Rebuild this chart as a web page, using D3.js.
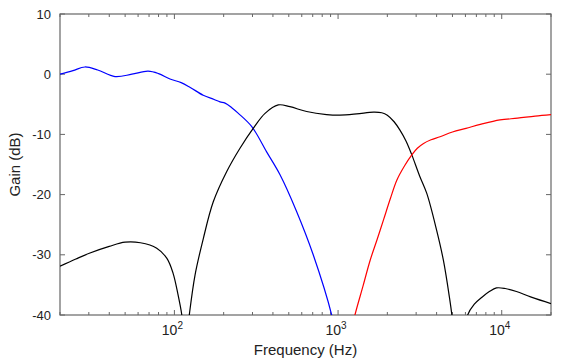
<!DOCTYPE html>
<html><head><meta charset="utf-8">
<script src="https://cdn.jsdelivr.net/npm/d3@7"></script>
<style>body{margin:0;background:#fff}svg{display:block}text{font-family:"Liberation Sans",Arial,sans-serif;fill:#222}</style>
</head><body><svg id="c" width="576" height="360"></svg>
<script>
const yTicks = [10, 0, -10, -20, -30, -40];
const xMajor = [100, 1000, 10000];
const xMajorExp = ["2", "3", "4"];
const xLabel = "Frequency (Hz)";
const yLabel = "Gain (dB)";

const blueFreq = [20, 24, 28.4, 34, 43.4, 55, 69, 80, 94, 110, 125, 150, 175, 190, 204, 225, 246, 297, 366, 442, 558, 705, 914, 960];
const blueGain = [0, 0.6, 1.2, 0.7, -0.4, 0.0, 0.5, 0.1, -0.8, -1.4, -2.2, -3.5, -4.2, -4.6, -4.8, -5.6, -6.5, -8.7, -12.9, -16.7, -22.8, -30.0, -40, -43];

const blackFreq = [20, 25, 30.5, 40, 50, 62, 78, 90, 98, 105, 111, 113, NaN, 121, 123.3, 133.6, 150.2, 172.8, 208.5, 251.6, 303, 358, 431, 508, 643, 851, 1027, 1300, 1646, 1850, 2000, 2200, 2389, 2600, 2822, 3150, 3484, 4000, 4400, 4800, 4960, 5100, NaN, 6000, 6195, 6800, 7605, 8400, 9290, 10500, 12300, 15000, 20000];
const blackGain = [-31.9, -30.7, -29.7, -28.6, -27.9, -28.0, -28.9, -30.6, -33.0, -36.5, -40, -42, NaN, -42, -40, -33.4, -27.3, -21.2, -16.2, -12.3, -9.0, -6.5, -5.1, -5.4, -6.2, -6.7, -6.8, -6.6, -6.3, -6.4, -6.8, -7.9, -9.3, -11.1, -13.4, -16.9, -19.8, -25.9, -30.9, -37.2, -40, -43, NaN, -43, -40, -38.2, -37.0, -36.1, -35.5, -35.6, -36.1, -37.0, -38.1];

const redFreq = [1200, 1268, 1420, 1571, 1730, 1895, 2085, 2285, 2550, 2822, 3050, 3330, 3700, 4200, 5000, 6050, 7500, 9750, 12500, 16000, 20000];
const redGain = [-43, -40, -35.2, -30.9, -27.5, -24.2, -20.7, -17.6, -15.2, -13.4, -12.3, -11.5, -10.9, -10.4, -9.6, -9.0, -8.3, -7.6, -7.3, -6.95, -6.7];

const svg = d3.select("#c");
const L = 60, R = 551, T = 14, B = 315;
const x = d3.scaleLog().domain([20, 20000]).range([L, R]);
const y = d3.scaleLinear().domain([-40, 10]).range([B, T]);
const borderCol = "#666";

svg.append("defs").append("clipPath").attr("id", "clip")
  .append("rect").attr("x", L).attr("y", T).attr("width", R - L).attr("height", B - T);

// y ticks
yTicks.forEach(v => {
  svg.append("line").attr("x1", L).attr("x2", L + 5).attr("y1", y(v)).attr("y2", y(v)).attr("stroke", borderCol);
  svg.append("line").attr("x1", R).attr("x2", R - 5).attr("y1", y(v)).attr("y2", y(v)).attr("stroke", borderCol);
  svg.append("text").attr("x", L - 9).attr("y", y(v)).attr("dy", "0.36em").attr("text-anchor", "end")
    .attr("font-size", 13).text(v);
});

// x minor ticks
const minor = [];
for (let d = 10; d <= 10000; d *= 10) for (let k = 2; k <= 9; k++) { const f = d * k; if (f >= 20 && f <= 20000) minor.push(f); }
minor.forEach(f => {
  svg.append("line").attr("x1", x(f)).attr("x2", x(f)).attr("y1", B).attr("y2", B - 3).attr("stroke", borderCol);
  svg.append("line").attr("x1", x(f)).attr("x2", x(f)).attr("y1", T).attr("y2", T + 3).attr("stroke", borderCol);
});
xMajor.forEach((f, i) => {
  svg.append("line").attr("x1", x(f)).attr("x2", x(f)).attr("y1", B).attr("y2", B - 5).attr("stroke", borderCol);
  svg.append("line").attr("x1", x(f)).attr("x2", x(f)).attr("y1", T).attr("y2", T + 5).attr("stroke", borderCol);
  const t = svg.append("text").attr("x", x(f) - 2).attr("y", 335).attr("text-anchor", "middle").attr("font-size", 14);
  t.append("tspan").text("10");
  t.append("tspan").attr("font-size", 10).attr("dy", -6).text(xMajorExp[i]);
});

// border
svg.append("rect").attr("x", L).attr("y", T).attr("width", R - L).attr("height", B - T)
  .attr("fill", "none").attr("stroke", borderCol).attr("stroke-width", 1.2);

// labels
svg.append("text").attr("x", (L + R) / 2).attr("y", 355).attr("text-anchor", "middle").attr("font-size", 15).text(xLabel);
svg.append("text").attr("transform", `translate(20,${(T + B) / 2}) rotate(-90)`).attr("text-anchor", "middle")
  .attr("font-size", 15).text(yLabel);

// curves
const line = d3.line().defined(d => !isNaN(d[0]) && !isNaN(d[1]))
  .x(d => x(d[0])).y(d => y(d[1])).curve(d3.curveCatmullRom.alpha(0.5));
const g = svg.append("g").attr("clip-path", "url(#clip)");
const series = [
  [blueFreq, blueGain, "#0000ff"],
  [blackFreq, blackGain, "#000000"],
  [redFreq, redGain, "#ff0000"]
];
series.forEach(([fs, gs, col]) => {
  g.append("path").datum(fs.map((f, i) => [f, gs[i]])).attr("d", line)
    .attr("fill", "none").attr("stroke", col).attr("stroke-width", 1.2);
});
</script></body></html>
